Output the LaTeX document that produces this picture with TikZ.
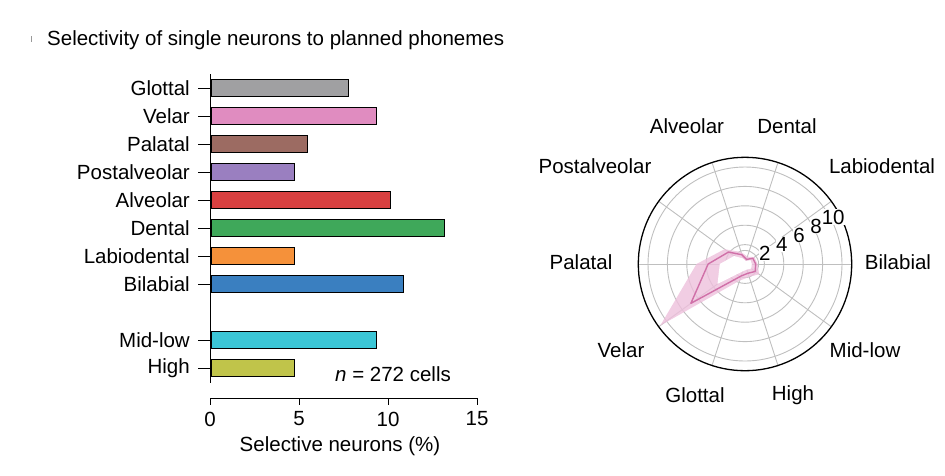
\documentclass[tikz,border=0pt]{standalone}
\usepackage{fontspec}
\setmainfont{Liberation Sans}
\definecolor{cglot}{HTML}{A0A0A2}
\definecolor{cvel}{HTML}{E08CC0}
\definecolor{cpal}{HTML}{9C6B62}
\definecolor{cpost}{HTML}{9A7FC0}
\definecolor{calv}{HTML}{D84040}
\definecolor{cden}{HTML}{3FA85A}
\definecolor{clab}{HTML}{F5913A}
\definecolor{cbil}{HTML}{3A7FC0}
\definecolor{cmid}{HTML}{3BC6D6}
\definecolor{chigh}{HTML}{C0C44A}
\definecolor{polarpink}{HTML}{D070A8}
\tikzset{
  bar/.style={draw=black, line width=1pt},
  lbl/.style={font=\fontsize{20.5}{24}\selectfont, inner sep=1pt},
  grid/.style={draw=black!25, line width=0.9pt}
}
\begin{document}
\begin{tikzpicture}[x=1pt,y=-1pt]
\useasboundingbox (0,0) rectangle (945,475);
\node[lbl, anchor=west] (title) at (46,40) {Selectivity of single neurons to planned phonemes};
\draw[black!40, line width=0.8pt] (31,36) -- (31,42);
% bars
\foreach \name/\val/\col/\y in {Glottal/7.75/cglot/88, Velar/9.3/cvel/116, Palatal/5.4/cpal/144,
    Postalveolar/4.7/cpost/172, Alveolar/10.1/calv/200, Dental/13.1/cden/228,
    Labiodental/4.7/clab/256, Bilabial/10.8/cbil/284, Mid-low/9.3/cmid/340, High/4.7/chigh/368}{
  \fill[\col] (211,\y-8.5) rectangle ({211+17.8*\val},\y+8.5);
  \draw[bar] (211,\y-8.5) rectangle ({211+17.8*\val},\y+8.5);
  \draw[line width=1pt] (198,\y) -- (210,\y);
  \node[lbl, anchor=east] (b-\name) at (191,\y) {\name};
}
\draw[line width=1pt] (210,74) -- (210,383);
\draw[line width=1pt] (210,398) -- (477,398);
\foreach \t in {0,5,10,15}{
  \draw[line width=1pt] ({210+17.8*\t},398) -- ({210+17.8*\t},405);
  \node[lbl] (tick-\t) at ({210+17.8*\t},419) {\t};
}
\node[lbl] (xlab) at (340,446) {Selective neurons (\%)};
\node[lbl] (ncells) at (393,374) {\textit{n} = 272 cells};
% polar
\begin{scope}[shift={(745,264)}, x=9.7pt, y=9.7pt]
  \foreach \r in {1.4,2,4,6,8,10}
    \draw[grid] (0,0) circle (\r);
  \foreach \a in {0,36,...,324}
    \draw[grid] (0,0) -- (\a:11);
  \fill[cvel!55, opacity=0.8] (0:1.3) -- (36:1.2) -- (72:0.8) -- (108:1.3) -- (144:2.6) -- (180:5.0) -- (216:10.8)
     -- (252:1.8) -- (288:1.4) -- (324:1.8) -- cycle;
  \fill[white] (0:0.7) -- (36:0.7) -- (72:0.3) -- (108:0.6) -- (144:1.4) -- (180:2.6) -- (216:3.5)
     -- (252:0.8) -- (288:0.6) -- (324:0.8) -- cycle;
  \draw[polarpink, line width=1.4pt, line join=round] (0:1.1) -- (36:1) -- (72:0.5) -- (108:1) -- (144:2.1) -- (180:3.8) -- (216:6.9)
     -- (252:1.3) -- (288:1) -- (324:1.3) -- cycle;
  \draw[line width=1.3pt] (0,0) circle (11);
  \foreach \r in {2,4,6,8,10}
    \node[lbl, fill=white, inner sep=0.5pt] (ring-\r) at (28:\r+0.3) {\r};
\end{scope}
\node[lbl] (p-bil) at (898,262) {Bilabial};
\node[lbl] (p-lab) at (882,166) {Labiodental};
\node[lbl] (p-den) at (787,126) {Dental};
\node[lbl] (p-alv) at (687,126) {Alveolar};
\node[lbl] (p-post) at (595,166) {Postalveolar};
\node[lbl] (p-pal) at (581,262) {Palatal};
\node[lbl] (p-vel) at (621,350) {Velar};
\node[lbl] (p-glot) at (695,395) {Glottal};
\node[lbl] (p-high) at (793,395) {High};
\node[lbl] (p-mid) at (865,350) {Mid-low};
\end{tikzpicture}
\end{document}
